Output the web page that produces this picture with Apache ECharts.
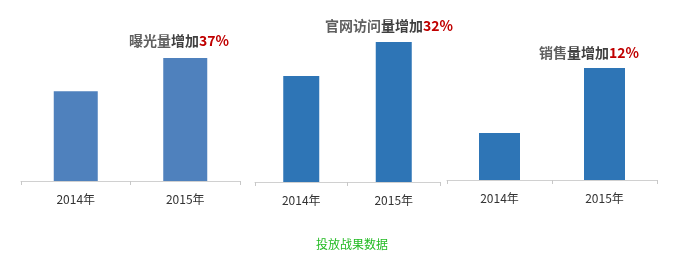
<!DOCTYPE html>
<html>
<head>
<meta charset="utf-8">
<script src="https://cdn.jsdelivr.net/npm/echarts@6/dist/echarts.min.js"></script>
<style>
html,body{margin:0;padding:0;background:#fff;}
#c{width:682px;height:255px;}
</style>
</head>
<body>
<div id="c"></div>
<script>
// Data
var categories = ['2014年', '2015年'];
var exposure = [73, 100];      // 曝光量 (relative index)
var visits = [75.8, 100];      // 官网访问量
var sales = [42, 100];         // 销售量
var caption = '投放战果数据';

var FONT = '"Noto Sans CJK SC", "Noto Sans", sans-serif';
var chart = echarts.init(document.getElementById('c'));

var grids = [
  {left: 21, top: 58, width: 219, height: 123},
  {left: 255, top: 42, width: 185, height: 140},
  {left: 447, top: 68, width: 210, height: 112}
];
var seriesData = [exposure, visits, sales];
var colors = ['#4f81bd', '#2e75b6', '#2e75b6'];
var barWidths = [44, 36, 41];

function xAxis(i) {
  return {
    type: 'category', gridIndex: i, data: categories, boundaryGap: true,
    axisLine: {lineStyle: {color: '#d0d0d0', width: 1}},
    axisTick: {show: true, length: 4, lineStyle: {color: '#c8c8c8'}},
    axisLabel: {color: '#333', fontSize: 12, fontFamily: FONT, margin: 12}
  };
}
function yAxis(i) {
  return {type: 'value', gridIndex: i, min: 0, max: 'dataMax', show: false, splitLine: {show: false}};
}

var rich = {
  a: {fontSize: 14, color: '#5f5f5f', fontFamily: FONT},
  b: {fontSize: 14, color: '#404040', fontWeight: 'bold', fontFamily: FONT},
  c: {fontSize: 14, color: '#c00000', fontWeight: 'bold', fontFamily: FONT}
};

chart.setOption({
  animation: false,
  grid: grids,
  xAxis: [xAxis(0), xAxis(1), xAxis(2)],
  yAxis: [yAxis(0), yAxis(1), yAxis(2)],
  series: seriesData.map(function (d, i) {
    return {
      type: 'bar', xAxisIndex: i, yAxisIndex: i, data: d,
      barWidth: barWidths[i], itemStyle: {color: colors[i]}
    };
  }),
  title: [
    {text: '{a|曝光量}{b|增加}{c|37%}', left: 129, top: 34, textStyle: {rich: rich}, padding: 0},
    {text: '{a|官网访问}{b|量增加}{c|32%}', left: 325, top: 19, textStyle: {rich: rich}, padding: 0},
    {text: '{a|销售}{b|量增加}{c|12%}', left: 539, top: 46, textStyle: {rich: rich}, padding: 0},
    {text: caption, left: 352, top: 238, textAlign: 'center', padding: 0,
     textStyle: {fontSize: 12, color: '#22bb22', fontWeight: 'normal', fontFamily: FONT}}
  ]
});
</script>
</body>
</html>
